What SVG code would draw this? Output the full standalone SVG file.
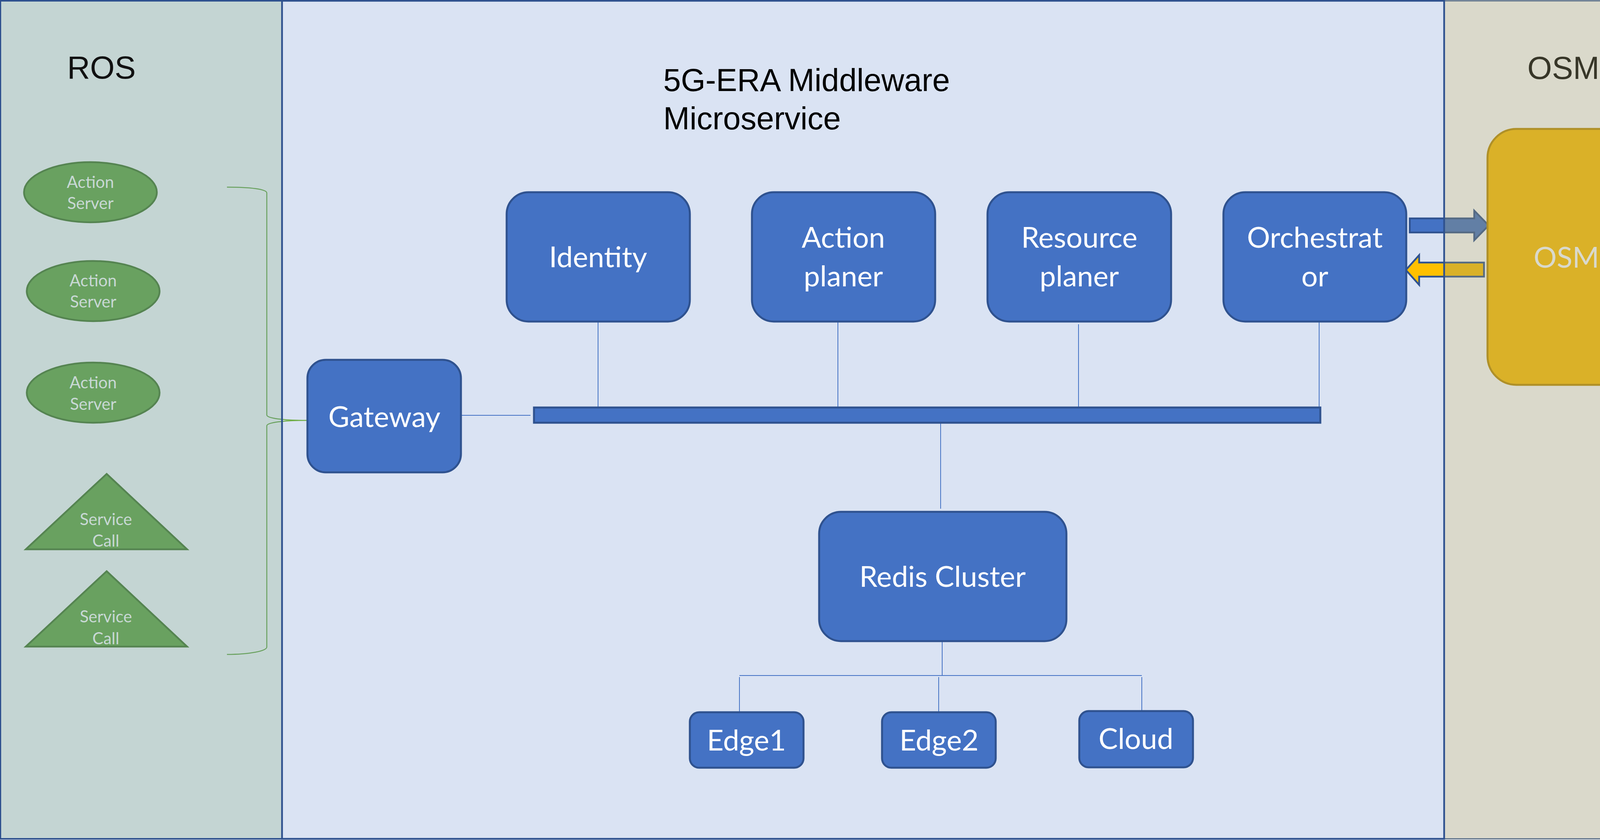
<svg xmlns="http://www.w3.org/2000/svg" width="4420" height="2150" viewBox="0 0 4420 2150">
<style>
.box{fill:#4472c4;stroke:#2f528f;stroke-width:5}
.lbl{font-family:Lato,"Open Sans",sans-serif;font-size:74px;fill:#ffffff;text-anchor:middle}
.hdr{font-family:"Liberation Sans",Arial,sans-serif;font-size:81px}
.wire{stroke:#4472c4;stroke-width:2;fill:none}
.ros{fill:#69a160;stroke:#558451;stroke-width:4.5}
.rlbl{font-family:Lato,"Open Sans",sans-serif;font-size:42px;fill:#c8d8d4;text-anchor:middle}
</style>
<g id="background">
<rect x="0" y="0" width="4420" height="2150" fill="#ffffff"/>
<rect x="722" y="2" width="2975" height="2145" fill="#dae3f3"/>
</g>
<g id="connectors">
<path d="M581,479 C640,479 683,484 683,494 L683,1062 C683,1070 720,1076 787,1076 M787,1076 C720,1076 683,1082 683,1090 L683,1656 C683,1666 640,1675 581,1675" fill="none" stroke="#70ad47" stroke-width="2.5"/>
<line class="wire" x1="1180" y1="1063" x2="1358" y2="1063"/>
<line class="wire" x1="1531" y1="823" x2="1531" y2="1043"/>
<line class="wire" x1="2145" y1="823" x2="2145" y2="1043"/>
<line class="wire" x1="2761" y1="830" x2="2761" y2="1043"/>
<line class="wire" x1="3377" y1="823" x2="3377" y2="1043"/>
<line class="wire" x1="2408" y1="1082" x2="2408" y2="1302"/>
<line class="wire" x1="2412" y1="1642" x2="2412" y2="1729"/>
<line class="wire" x1="1893" y1="1729" x2="2923" y2="1729"/>
<line class="wire" x1="1893" y1="1733" x2="1893" y2="1822"/>
<line class="wire" x1="2403" y1="1733" x2="2403" y2="1822"/>
<line class="wire" x1="2923" y1="1733" x2="2923" y2="1820"/>
<polygon points="3609,559 3774,559 3774,539 3811,577 3774,615 3774,595 3609,595" fill="#4472c4" stroke="#2f528f" stroke-width="4.5"/>
<polygon points="3799,672 3633,672 3633,653 3599,691 3633,729 3633,708 3799,708" fill="#ffc000" stroke="#2f528f" stroke-width="4.5"/>
</g>
<g id="panel-overlays">
<rect x="0" y="2" width="722" height="2145" fill="rgb(94,142,136)" fill-opacity="0.37"/>
<rect x="3697" y="2" width="723" height="2145" fill="rgb(153,150,111)" fill-opacity="0.36"/>
</g>
<g id="panel-borders" fill="none">
<rect x="1" y="2" width="721" height="2145" stroke="#2f528f" stroke-width="4"/>
<rect x="3697" y="2" width="721" height="2145" stroke="#556a84" stroke-width="3"/>
<rect x="722" y="2" width="2975" height="2145" stroke="#2f528f" stroke-width="4.5"/>
</g>
<g id="ros-title"><text class="hdr" x="172" y="201" fill="#111111">ROS</text></g>
<g id="middleware-title"><text class="hdr" x="1698" y="233" font-size="82" fill="#000000">5G-ERA Middleware</text><text class="hdr" x="1698" y="331" font-size="82" fill="#000000">Microservice</text></g>
<g id="osm-title"><text class="hdr" x="3910" y="202" font-size="80" fill="#373628">OSM</text></g>
<g id="action-server-1"><ellipse class="ros" cx="231.5" cy="492" rx="170" ry="77"/><text class="rlbl" x="231.5" y="481">Action</text><text class="rlbl" x="231.5" y="535">Server</text></g>
<g id="action-server-2"><ellipse class="ros" cx="238.5" cy="745" rx="170" ry="77"/><text class="rlbl" x="238.5" y="733">Action</text><text class="rlbl" x="238.5" y="787">Server</text></g>
<g id="action-server-3"><ellipse class="ros" cx="238.5" cy="1005" rx="170" ry="77"/><text class="rlbl" x="238.5" y="994">Action</text><text class="rlbl" x="238.5" y="1049">Server</text></g>
<g id="service-call-1"><polygon class="ros" points="273,1213 479,1406 66,1406"/><text class="rlbl" x="271" y="1344">Service</text><text class="rlbl" x="271" y="1399">Call</text></g>
<g id="service-call-2"><polygon class="ros" points="273,1462 479,1655 66,1655"/><text class="rlbl" x="271" y="1593">Service</text><text class="rlbl" x="271" y="1649">Call</text></g>
<g id="gateway"><rect class="box" x="787" y="921" width="393" height="288" rx="47"/><text class="lbl" x="984" y="1093">Gateway</text></g>
<g id="identity"><rect class="box" x="1297" y="492" width="469" height="331" rx="56"/><text class="lbl" x="1531" y="684">Identity</text></g>
<g id="action-planer"><rect class="box" x="1925" y="492" width="469" height="331" rx="56"/><text class="lbl" x="2159" y="634">Action</text><text class="lbl" x="2159" y="733">planer</text></g>
<g id="resource-planer"><rect class="box" x="2528" y="492" width="470" height="331" rx="56"/><text class="lbl" x="2763" y="634">Resource</text><text class="lbl" x="2763" y="733">planer</text></g>
<g id="orchestrator"><rect class="box" x="3132" y="492" width="468" height="331" rx="56"/><text class="lbl" x="3366" y="634">Orchestrat</text><text class="lbl" x="3366" y="733">or</text></g>
<g id="bus"><rect class="box" x="1367" y="1043" width="2013" height="39"/></g>
<g id="redis-cluster"><rect class="box" x="2097" y="1310" width="633" height="331" rx="56"/><text class="lbl" x="2413" y="1502">Redis Cluster</text></g>
<g id="edge1"><rect class="box" x="1766" y="1823" width="291" height="142" rx="24"/><text class="lbl" x="1911" y="1921">Edge1</text></g>
<g id="edge2"><rect class="box" x="2258" y="1823" width="291" height="142" rx="24"/><text class="lbl" x="2404" y="1921">Edge2</text></g>
<g id="cloud"><rect class="box" x="2763" y="1820" width="291" height="144" rx="24"/><text class="lbl" x="2908" y="1917">Cloud</text></g>
<g id="osm"><rect x="3808" y="330" width="443" height="655" rx="74" fill="#dab128" stroke="#af9028" stroke-width="5"/><text class="lbl" x="4010" y="685" style="fill:#d9d9cc">OSM</text></g>
</svg>
